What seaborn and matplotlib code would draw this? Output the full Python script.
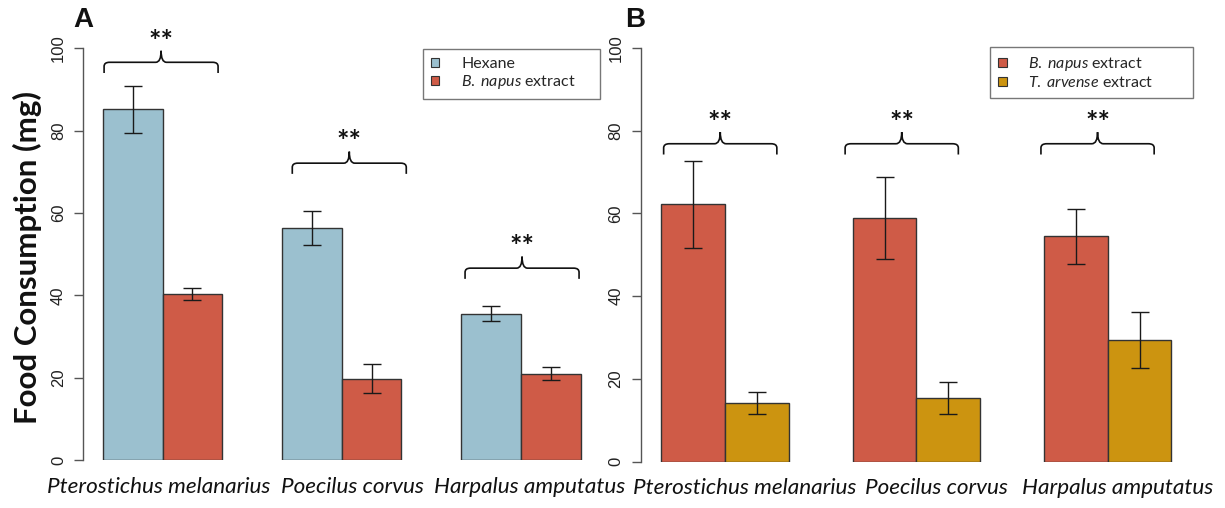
import matplotlib
matplotlib.use("Agg")
import matplotlib.pyplot as plt
import pandas as pd
import seaborn as sns
from matplotlib.patches import Patch, PathPatch
from matplotlib.path import Path

# ---- data -------------------------------------------------------------
species = ["Pterostichus melanarius", "Poecilus corvus", "Harpalus amputatus"]

# Panel A: hexane control vs B. napus extract (mean, SE)
hexane_mean = [85.2, 56.3, 35.5]
hexane_se = [5.7, 4.1, 1.8]
napus_a_mean = [40.3, 19.7, 21.0]
napus_a_se = [1.4, 3.5, 1.5]

# Panel B: B. napus extract vs T. arvense extract (mean, SE)
napus_b_mean = [62.2, 58.8, 54.4]
napus_b_se = [10.5, 9.95, 6.75]
arvense_mean = [14.2, 15.35, 29.5]
arvense_se = [2.6, 3.85, 6.75]

y_ticks = [0, 20, 40, 60, 80, 100]
sig_label = "**"

# ---- style ------------------------------------------------------------
sns.set_style("ticks")
plt.rcParams["font.family"] = ["Lato", "DejaVu Sans"]
plt.rcParams["mathtext.fontset"] = "custom"
plt.rcParams["mathtext.rm"] = "Lato"
plt.rcParams["mathtext.it"] = "Lato:italic"
plt.rcParams["mathtext.bf"] = "Lato:bold"

BLUE = "#9BC0CF"
RED = "#CF5B47"
GOLD = "#CC9410"
EDGE = "#333333"
AXIS_GREY = "#555555"

W, H = 1225, 508
fig = plt.figure(figsize=(W / 100, H / 100), dpi=100)


def px_axes(left, right, bottom_px, top_px):
    """Axes placed from pixel coordinates (origin top-left)."""
    return fig.add_axes([left / W, 1 - bottom_px / H,
                         (right - left) / W, (bottom_px - top_px) / H])


def brace(ax, xc, half, y):
    """Horizontal curly brace opening downward, centred on xc."""
    x0, x1 = xc - half, xc + half
    tip, peak, r = y - 2.6, y + 2.8, 0.03
    verts = [(x0, tip), (x0, y - 1.0), (x0, y), (x0 + r, y),
             (xc - r, y), (xc, y), (xc, peak),
             (xc, y), (xc + r, y),
             (x1 - r, y), (x1, y), (x1, y - 1.0), (x1, tip)]
    codes = [Path.MOVETO, Path.LINETO, Path.CURVE3, Path.CURVE3,
             Path.LINETO, Path.CURVE3, Path.CURVE3,
             Path.CURVE3, Path.CURVE3,
             Path.LINETO, Path.CURVE3, Path.CURVE3, Path.LINETO]
    ax.add_patch(PathPatch(Path(verts, codes), fill=False, lw=1.2,
                           edgecolor="#111111", clip_on=False, zorder=4))
    ax.text(xc, y + 3.1, sig_label, ha="center", va="baseline",
            fontsize=21, fontweight="bold", color="#111111", clip_on=False)


def panel(ax, m1, s1, n1, c1, m2, s2, n2, c2, legend_labels, legend_box,
          label_x, brace_x, brace_half, brace_y):
    df = pd.DataFrame({
        "species": species * 2,
        "treatment": [n1] * 3 + [n2] * 3,
        "mg": m1 + m2,
    })
    sns.barplot(data=df, x="species", y="mg", hue="treatment",
                order=species, hue_order=[n1, n2], palette=[c1, c2],
                width=2 / 3, gap=0, errorbar=None, saturation=1,
                edgecolor=EDGE, linewidth=1.0, legend=False, ax=ax)

    for cont, means, ses in zip(ax.containers, [m1, m2], [s1, s2]):
        xs = [b.get_x() + b.get_width() / 2 for b in cont]
        ax.errorbar(xs, means, yerr=ses, fmt="none", ecolor="#1a1a1a",
                    elinewidth=1.0, capsize=6.5, capthick=1.0, zorder=3)

    ax.set_xlim(-0.442, 2.5)
    ax.set_ylim(0, 100)
    ax.set_yticks(y_ticks)
    ax.set_yticklabels([str(t) for t in y_ticks], rotation=90, va="center",
                       family=["Liberation Sans"], fontsize=12,
                       color="#222222")
    ax.tick_params(axis="y", length=6.5, width=1.0, color=AXIS_GREY, pad=6)
    ax.set_xticks(label_x, labels=species)
    ax.tick_params(axis="x", length=0, pad=12)
    for lab in ax.get_xticklabels():
        lab.set_fontstyle("italic")
        lab.set_fontsize(16.2)
        lab.set_color("#111111")
    ax.set_xlabel("")
    ax.set_ylabel("")
    for side in ("top", "right", "bottom"):
        ax.spines[side].set_visible(False)
    ax.spines["left"].set_bounds(0, 100)
    ax.spines["left"].set_color(AXIS_GREY)
    ax.spines["left"].set_linewidth(1.0)
    ax.patch.set_alpha(0)

    for xc, half, y in zip(brace_x, brace_half, brace_y):
        brace(ax, xc, half, y)

    handles = [Patch(facecolor=c1, edgecolor=EDGE, lw=0.8),
               Patch(facecolor=c2, edgecolor=EDGE, lw=0.8)]
    lx, ly, lw_ = legend_box
    leg = ax.legend(handles, legend_labels, loc="upper left",
                    bbox_to_anchor=(lx / W, 1 - ly / H, lw_ / W, 0),
                    bbox_transform=fig.transFigure, mode="expand",
                    borderaxespad=0, frameon=True, fancybox=False,
                    framealpha=1, edgecolor="#777777", fontsize=11.5,
                    handlelength=0.55, handleheight=0.45, handletextpad=1.35,
                    labelspacing=0.12, borderpad=0.5)
    leg.get_frame().set_linewidth(1.0)


ax_a = px_axes(83.3, 610.6, 460.0, 48.3)
panel(ax_a, hexane_mean, hexane_se, "Hexane", BLUE,
      napus_a_mean, napus_a_se, "B. napus extract", RED,
      ["Hexane", r"$\mathit{B.\;napus}$ extract"],
      (422.7, 49.3, 177.0),
      label_x=[-0.02, 1.062, 2.05],
      brace_x=[-0.008, 1.042, 2.006], brace_half=[0.318] * 3,
      brace_y=[96.6, 72.1, 46.6])

ax_b = px_axes(640.7, 1203.3, 461.7, 47.7)
panel(ax_b, napus_b_mean, napus_b_se, "B. napus extract", RED,
      arvense_mean, arvense_se, "T. arvense extract", GOLD,
      [r"$\mathit{B.\;napus}$ extract", r"$\mathit{T.\;arvense}$ extract"],
      (990.0, 47.3, 202.7),
      label_x=[0.103, 1.102, 2.051],
      brace_x=[-0.026, 0.923, 1.947], brace_half=[0.296] * 3,
      brace_y=[76.8, 76.8, 76.8])

fig.text(27 / W, 1 - 258 / H, "Food Consumption (mg)", rotation=90,
         ha="center", va="center", fontsize=22.5, fontweight="bold",
         color="#111111")
fig.text(83 / W, 1 - 20 / H, "A", ha="center", va="center", fontsize=20,
         fontweight="bold", family=["Liberation Sans"], color="#111111")
fig.text(635 / W, 1 - 20 / H, "B", ha="center", va="center", fontsize=20,
         fontweight="bold", family=["Liberation Sans"], color="#111111")

fig.savefig("out.png", dpi=100)
